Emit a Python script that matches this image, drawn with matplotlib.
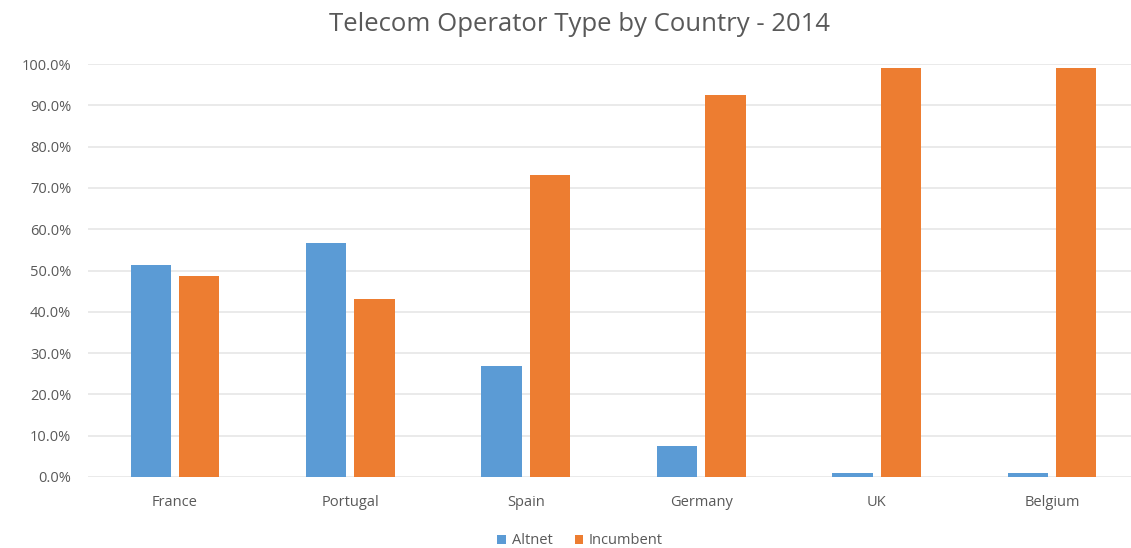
import numpy as np
import matplotlib
matplotlib.use('Agg')
import matplotlib.pyplot as plt
from matplotlib.ticker import FuncFormatter

# data (percent)
countries = ['France', 'Portugal', 'Spain', 'Germany', 'UK', 'Belgium']
altnet = [51.3, 56.6, 26.8, 7.5, 1.0, 1.0]
incumbent = [48.7, 43.2, 73.2, 92.5, 99.0, 99.0]

blue = '#5B9BD5'
orange = '#ED7D31'
grey = '#595959'

plt.rcParams['font.family'] = ['Open Sans', 'DejaVu Sans']

fig = plt.figure(figsize=(11.31, 5.48), dpi=100)
ax = fig.add_axes([88/1131, 71/548, 1 - 88/1131, 413/548])

ind = np.arange(len(countries))
width = 0.23
gap = 0.046
ax.bar(ind - (width + gap)/2, altnet, width, color=blue, label='Altnet', zorder=3)
ax.bar(ind + (width + gap)/2, incumbent, width, color=orange, label='Incumbent', zorder=3)

ax.set_xlim(-0.496, 5.45)
ax.set_ylim(0, 100)
ax.set_yticks(np.arange(0, 101, 10))
ax.yaxis.set_major_formatter(FuncFormatter(lambda v, p: '%.1f%%' % v))
ax.set_xticks(ind)
ax.set_xticklabels(countries)
ax.grid(axis='y', color='#E6E6E6', linewidth=1.2, zorder=0)
for s in ax.spines.values():
    s.set_visible(False)
ax.tick_params(length=0, colors=grey, labelsize=10.5)
ax.tick_params(axis='x', pad=13)
ax.tick_params(axis='y', pad=12)

fig.text(0.512, 0.956, 'Telecom Operator Type by Country - 2014', ha='center', va='center',
         fontsize=18.5, color=grey)

fig.legend(loc='center', bbox_to_anchor=(0.513, 0.013), ncol=2, frameon=False,
           fontsize=10.5, labelcolor=grey, handlelength=0.6, handleheight=0.6,
           handletextpad=0.4, columnspacing=1.5)

fig.savefig('out.png', dpi=100)
